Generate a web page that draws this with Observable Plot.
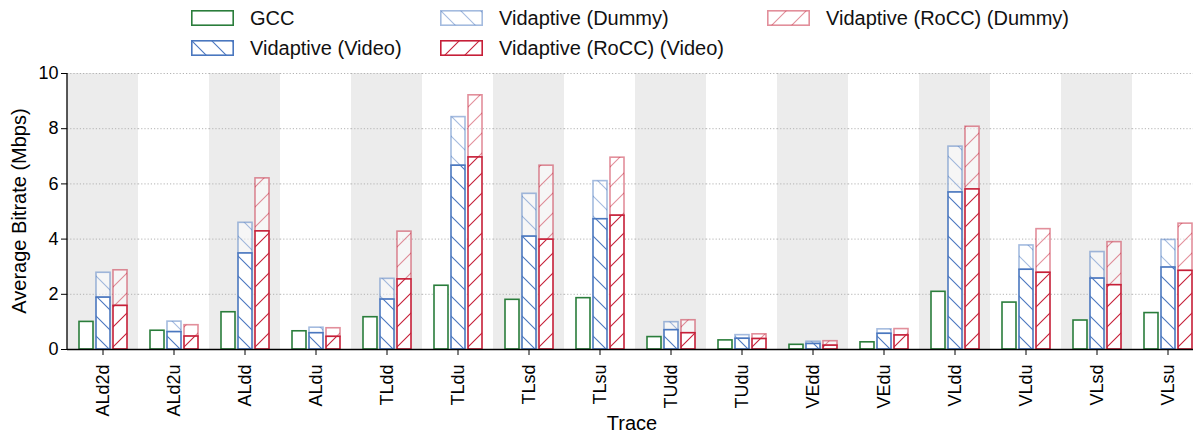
<!DOCTYPE html>
<html><head><meta charset="utf-8">
<script src="https://cdn.jsdelivr.net/npm/d3@7"></script>
<script src="https://cdn.jsdelivr.net/npm/@observablehq/plot@0.6"></script>
<style>
body{margin:0;background:#fff;font-family:"Liberation Sans",Arial,Helvetica,sans-serif;}
#wrap{position:relative;width:1193px;height:435px;overflow:hidden;}
#legend{position:relative;width:1193px;height:60px;}
.item{position:absolute;height:24px;display:flex;align-items:center;font-size:20px;color:#111;white-space:nowrap;}
.item svg{margin-right:16px;}
#defs{position:absolute;width:0;height:0;overflow:hidden;}
</style>
</head><body>
<svg id="defs" width="0" height="0"><defs></defs></svg>
<div id="wrap"><div id="legend"></div><div id="chart"></div></div>
<script>
// ---- data ----
const traces = ["ALd2d","ALd2u","ALdd","ALdu","TLdd","TLdu","TLsd","TLsu","TUdd","TUdu","VEdd","VEdu","VLdd","VLdu","VLsd","VLsu"];
const gcc        = [1.00,0.68,1.35,0.66,1.17,2.31,1.80,1.86,0.45,0.33,0.17,0.26,2.09,1.70,1.05,1.32];
const vidVideo   = [1.88,0.63,3.48,0.59,1.81,6.66,4.09,4.72,0.70,0.39,0.20,0.57,5.69,2.89,2.57,2.97];
const vidDummy   = [0.90,0.38,1.11,0.20,0.75,1.76,1.55,1.38,0.29,0.13,0.08,0.16,1.66,0.88,0.96,1.00];
const roccVideo  = [1.58,0.47,4.28,0.46,2.54,6.96,3.98,4.85,0.59,0.38,0.14,0.51,5.80,2.78,2.33,2.85];
const roccDummy  = [1.29,0.41,1.92,0.31,1.73,2.25,2.68,2.10,0.47,0.17,0.16,0.23,2.27,1.58,1.56,1.71];
const slots = ["GCC","Vidaptive","RoCC"];
const yTicks = [0,2,4,6,8,10];
const legendLabels = ["GCC","Vidaptive (Video)","Vidaptive (Dummy)","Vidaptive (RoCC) (Video)","Vidaptive (RoCC) (Dummy)"];

// ---- styles ----
const GREEN = "#2a7d3b", BLUE = "#4a77bf", RED = "#c61f38";
const FONT = "'Liberation Sans', Arial, Helvetica, sans-serif";

// hatch patterns
function pat(id, color, dir, op){
  const d = dir === "back" ? "M-2,-2L22,22M-2,18L2,22M18,-2L22,2" : "M-2,22L22,-2M-2,2L2,-2M18,22L22,18";
  return `<pattern id="${id}" patternUnits="userSpaceOnUse" width="20" height="20">
    <rect width="20" height="20" fill="#fff" fill-opacity="${op}"/>
    <path d="${d}" stroke="${color}" stroke-width="1.1" stroke-opacity="${op}" fill="none"/>
  </pattern>`;
}
document.querySelector("#defs defs").innerHTML =
  pat("hBlueV", BLUE, "back", 1) + pat("hBlueD", BLUE, "back", 0.5) +
  pat("hRedV", RED, "fwd", 1) + pat("hRedD", RED, "fwd", 0.5);

const styles = {
  "GCC": {fill:"#fff", stroke:GREEN, op:1},
  "Vidaptive (Video)": {fill:"url(#hBlueV)", stroke:BLUE, op:1},
  "Vidaptive (Dummy)": {fill:"url(#hBlueD)", stroke:BLUE, op:0.5},
  "Vidaptive (RoCC) (Video)": {fill:"url(#hRedV)", stroke:RED, op:1},
  "Vidaptive (RoCC) (Dummy)": {fill:"url(#hRedD)", stroke:RED, op:0.5}
};

// ---- legend ----
const colLeft = [191, 440, 767], rowCenter = [18, 48];
const leg = document.getElementById("legend");
legendLabels.forEach((lab, i) => {
  const col = Math.floor(i / 2), row = i % 2;
  const s = styles[lab];
  const div = document.createElement("div");
  div.className = "item";
  div.style.left = colLeft[col] + "px";
  div.style.top = (rowCenter[row] - 12) + "px";
  div.innerHTML = `<svg width="43" height="16"><rect x="0.8" y="0.8" width="41.4" height="14.4" fill="${s.fill}" stroke="${s.stroke}" stroke-opacity="${s.op}" stroke-width="1.6"/></svg><span>${lab}</span>`;
  leg.appendChild(div);
});

// ---- rows ----
const rows = [];
traces.forEach((t, i) => {
  rows.push({trace:t, slot:"GCC", y1:0, y2:gcc[i], s:"GCC"});
  rows.push({trace:t, slot:"Vidaptive", y1:vidVideo[i], y2:vidVideo[i]+vidDummy[i], s:"Vidaptive (Dummy)"});
  rows.push({trace:t, slot:"Vidaptive", y1:0, y2:vidVideo[i], s:"Vidaptive (Video)"});
  rows.push({trace:t, slot:"RoCC", y1:roccVideo[i], y2:roccVideo[i]+roccDummy[i], s:"Vidaptive (RoCC) (Dummy)"});
  rows.push({trace:t, slot:"RoCC", y1:0, y2:roccVideo[i], s:"Vidaptive (RoCC) (Video)"});
});
const barOrder = ["GCC","Vidaptive (Dummy)","Vidaptive (Video)","Vidaptive (RoCC) (Dummy)","Vidaptive (RoCC) (Video)"];
const shaded = traces.filter((t, i) => i % 2 === 0);

const chart = Plot.plot({
  width: 1193, height: 375,
  marginTop: 13, marginBottom: 86, marginLeft: 67, marginRight: 0,
  style: {fontFamily: FONT, fontSize: "18px", color: "#000", background: "transparent", overflow: "hidden"},
  fx: {domain: traces, range: [67, 1203], padding: 0, label: null, tickSize: 6, tickPadding: 9, tickRotate: -90},
  x: {domain: slots, paddingInner: 0.18, paddingOuter: 0.6, axis: null},
  y: {domain: [0, 10], ticks: yTicks, tickSize: 6, tickPadding: 3, label: null},
  marks: [
    Plot.rect(shaded, {fx: d => d, fill: "#ececec"}),
    Plot.ruleY(yTicks.slice(1), {stroke: "#b3b3b3", strokeWidth: 1, strokeDasharray: "1.2,2"}),
    ...barOrder.map(k => Plot.barY(rows.filter(r => r.s === k), {
      fx: "trace", x: "slot", y1: "y1", y2: "y2",
      fill: styles[k].fill, stroke: styles[k].stroke, strokeOpacity: styles[k].op, strokeWidth: 1.6
    })),
    Plot.ruleY([0], {stroke: "#000", strokeWidth: 1.3})
  ]
});
document.getElementById("chart").appendChild(chart);

// axis line + titles
const ns = "http://www.w3.org/2000/svg";
const ys = chart.scale("y"), fxs = chart.scale("fx");
const x0 = fxs.range[0], x1 = fxs.range[1];
const line = document.createElementNS(ns, "line");
line.setAttribute("x1", x0); line.setAttribute("x2", x0);
line.setAttribute("y1", ys.apply(10)); line.setAttribute("y2", ys.apply(0));
line.setAttribute("stroke", "#000"); line.setAttribute("stroke-width", "1.3");
chart.appendChild(line);
function addText(txt, x, y, rot){
  const t = document.createElementNS(ns, "text");
  t.textContent = txt;
  t.setAttribute("text-anchor", "middle");
  t.setAttribute("font-size", "20");
  t.setAttribute("fill", "#000");
  t.setAttribute("font-family", FONT);
  if (rot) t.setAttribute("transform", `translate(${x},${y}) rotate(-90)`);
  else { t.setAttribute("x", x); t.setAttribute("y", y); }
  chart.appendChild(t);
}
addText("Average Bitrate (Mbps)", 26, (ys.apply(0) + ys.apply(10)) / 2, true);
addText("Trace", (x0 + x1) / 2 - 3, ys.apply(0) + 81, false);
</script>
</body></html>
